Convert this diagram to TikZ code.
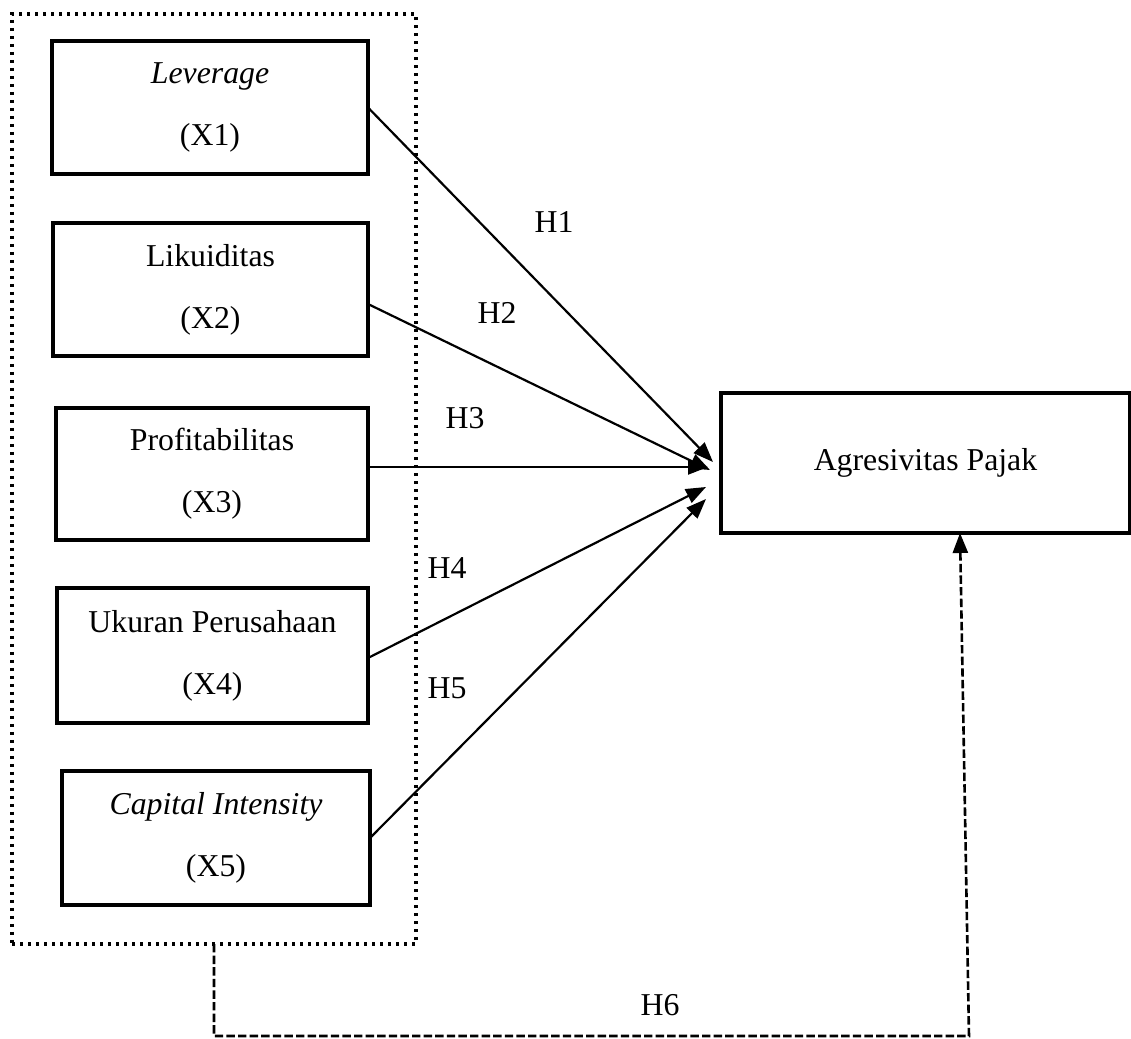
\documentclass[tikz,border=0pt]{standalone}
\usepackage{fontspec}
\setmainfont{Liberation Serif}
\usetikzlibrary{arrows.meta}
\begin{document}
\begin{tikzpicture}[x=0.5pt,y=-0.5pt,
  every node/.style={font=\fontsize{15.9}{31}\selectfont},
  varbox/.style={draw, line width=1.7pt, inner sep=0pt, outer sep=0pt, align=center},
  groupframe/.style={draw, line width=1.9pt, dash pattern=on 1.6pt off 2.4pt, inner sep=0pt, outer sep=0pt},
  hyp/.style={-{Triangle[length=10pt,width=7.5pt]}, line width=1.1pt},
  hypdash/.style={-{Triangle[length=10pt,width=7.5pt]}, line width=1.3pt, dash pattern=on 4.2pt off 1.6pt},
  lab/.style={inner sep=0pt}]
\useasboundingbox (0,0) rectangle (1131,1039);

% group frame
\node[groupframe, minimum width=202pt, minimum height=465pt] (frame) at (214,479) {};

% variable boxes
\node[varbox, minimum width=158pt, minimum height=66.5pt] (x1) at (210,107.5) {\textit{Leverage}\\(X1)};
\node[varbox, minimum width=157.5pt, minimum height=66.5pt] (x2) at (210.5,289.5) {Likuiditas\\(X2)};
\node[varbox, minimum width=156pt, minimum height=66pt] (x3) at (212,474) {Profitabilitas\\(X3)};
\node[varbox, minimum width=155.5pt, minimum height=67.5pt] (x4) at (212.5,655.5) {Ukuran Perusahaan\\(X4)};
\node[varbox, minimum width=154pt, minimum height=67pt] (x5) at (216,838) {\textit{Capital Intensity}\\(X5)};

% dependent variable
\node[varbox, minimum width=204.5pt, minimum height=70pt] (tgt) at (925.5,463) {Agresivitas Pajak};

% arrow end points
\coordinate (t1) at (713,462);
\coordinate (t2) at (710,470);
\coordinate (t3) at (708,467);
\coordinate (t4) at (706,487);
\coordinate (t5) at (706,499);

\draw[hyp] (x1.east) -- (t1);
\draw[hyp] ([yshift=-7.25pt]x2.east) -- (t2);
\draw[hyp] ([yshift=3.5pt]x3.east) -- (t3);
\draw[hyp] ([yshift=-1.25pt]x4.east) -- (t4);
\draw[hyp] (x5.east) -- (t5);

% dashed H6 path
\coordinate (d1) at (214,1036);
\coordinate (d2) at (969,1036);
\draw[hypdash] (frame.south) -- (d1) -- (d2) -- ([xshift=17.25pt]tgt.south);

% labels
\node[lab] (h1) at (554,222) {H1};
\node[lab] (h2) at (497,313) {H2};
\node[lab] (h3) at (465,418) {H3};
\node[lab] (h4) at (447,568) {H4};
\node[lab] (h5) at (447,688) {H5};
\node[lab] (h6) at (660,1005) {H6};
\end{tikzpicture}
\end{document}
